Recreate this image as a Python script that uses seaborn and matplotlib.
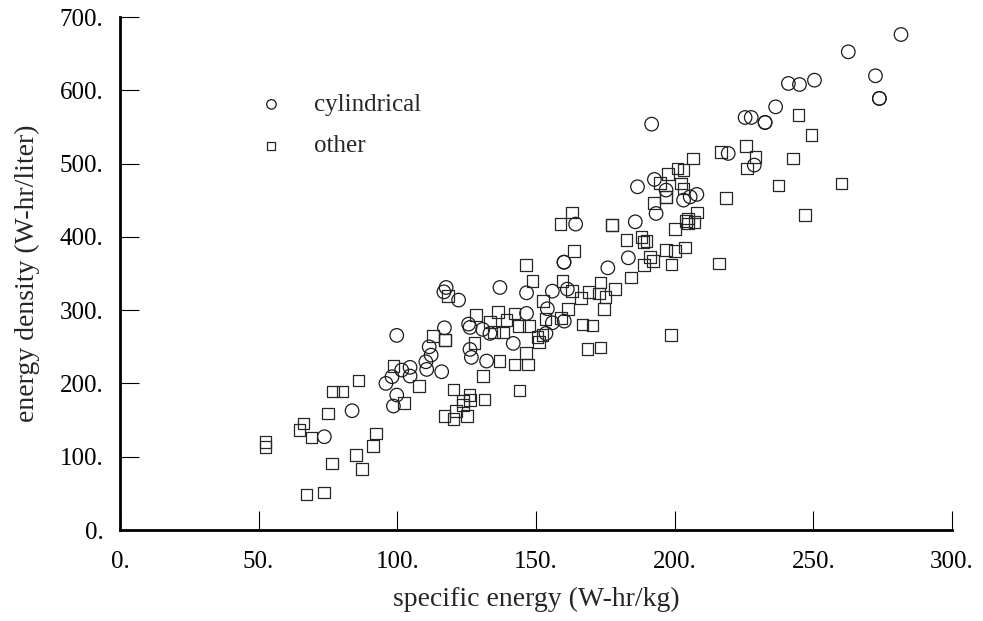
import pandas as pd
import seaborn as sns
import matplotlib.pyplot as plt
from matplotlib.ticker import FuncFormatter, MultipleLocator


# 데이터
cyl_energy = [73.7, 83.7, 99.8, 101.6, 104.6, 104.6, 98.1, 95.9, 99.8, 98.6,
              117.0, 111.5, 112.2, 110.3, 110.6, 116.0, 122.1, 117.6, 116.8, 125.7,
              126.2, 130.8, 133.4, 126.2, 126.7, 132.2, 141.8, 146.6, 146.6, 137.0,
              155.9, 154.1, 155.9, 153.6, 161.3, 160.2, 175.9, 160.1, 160.1, 164.3,
              191.7, 186.6, 192.7, 196.9, 203.2, 205.6, 208.0, 193.3, 185.8, 183.3,
              219.3, 228.7, 225.4, 227.6, 232.6, 232.6, 236.4, 281.6, 262.6, 272.4,
              273.8, 273.8, 241.0, 245.0, 250.4]
cyl_density = [127.3, 162.8, 265.6, 218.3, 222.0, 210.1, 209.2, 200.1, 184.2, 169.2,
               276.0, 250.0, 238.7, 229.6, 219.2, 216.0, 313.8, 331.0, 325.0, 281.0,
               276.5, 273.8, 268.3, 246.5, 235.6, 230.6, 254.7, 295.6, 323.7, 331.0,
               326.0, 302.0, 282.8, 268.3, 328.8, 285.1, 357.8, 365.5, 365.5, 417.5,
               553.9, 468.4, 478.4, 463.9, 450.2, 454.7, 458.0, 432.0, 420.6, 371.5,
               513.9, 498.0, 563.0, 563.0, 556.2, 556.2, 577.5, 676.2, 652.6, 619.9,
               589.0, 589.0, 609.4, 608.0, 613.9]

other_energy = [52.5, 52.5, 66.2, 64.7, 69.0, 75.1, 76.8, 80.2, 86.0, 92.3,
                91.2, 85.2, 76.5, 87.3, 67.2, 73.6, 98.6, 102.4, 107.9, 112.8,
                117.2, 117.2, 118.2, 128.4, 133.5, 127.9, 130.8, 120.3, 126.0, 126.2,
                123.6, 123.8, 131.4, 121.2, 117.0, 120.3, 125.1, 136.9, 142.2, 147.2,
                144.0, 146.3, 136.4, 139.4, 142.2, 143.8, 147.5, 134.9, 138.2, 146.3,
                148.7, 152.5, 153.4, 150.5, 151.1, 152.4, 159.6, 163.0, 166.2, 169.1,
                173.3, 172.8, 175.0, 178.5, 174.5, 161.6, 159.0, 166.8, 170.4, 168.6,
                173.2, 163.7, 158.9, 177.5, 177.5, 162.9, 194.7, 197.7, 201.0, 203.2,
                206.5, 202.2, 203.2, 196.9, 196.9, 192.6, 208.0, 204.9, 204.9, 207.1,
                204.1, 200.1, 182.7, 188.1, 188.7, 189.9, 196.9, 200.1, 203.7, 191.1,
                192.3, 189.0, 198.9, 184.3, 198.7, 216.0, 218.4, 216.7, 225.7, 229.2,
                226.0, 244.7, 249.4, 242.6, 237.5, 247.1, 260.2]
other_density = [120.5, 113.6, 145.5, 136.4, 126.4, 159.2, 189.2, 189.2, 204.2, 131.9,
                 115.0, 102.3, 91.0, 83.2, 48.7, 51.4, 224.1, 173.7, 196.9, 264.7,
                 259.2, 259.2, 319.4, 293.3, 283.5, 255.5, 210.1, 192.0, 184.2, 177.4,
                 176.4, 170.5, 178.3, 162.8, 155.5, 151.4, 155.9, 231.0, 226.0, 226.0,
                 190.6, 241.9, 297.8, 286.5, 295.6, 278.3, 278.3, 270.5, 269.6, 361.5,
                 340.1, 312.4, 287.8, 263.7, 256.5, 266.0, 339.7, 326.0, 316.9, 325.1,
                 337.9, 322.9, 317.9, 329.2, 301.5, 301.5, 289.6, 280.6, 279.2, 246.9,
                 249.2, 380.6, 418.0, 416.0, 416.0, 433.4, 473.8, 485.7, 493.4, 491.1,
                 507.1, 473.0, 466.2, 454.7, 454.7, 446.5, 433.4, 425.2, 418.4, 420.6,
                 422.0, 410.6, 395.6, 400.1, 393.3, 394.7, 382.0, 380.6, 385.7, 372.9,
                 367.0, 361.5, 362.5, 344.7, 266.0, 363.8, 453.4, 516.1, 524.3, 509.3,
                 493.4, 566.2, 538.9, 507.1, 470.3, 430.2, 473.0]

cyl_df = pd.DataFrame({"energy": cyl_energy, "density": cyl_density})
other_df = pd.DataFrame({"energy": other_energy, "density": other_density})


# 시각화 설정
sns.set_theme(style="ticks")
plt.rcParams["font.family"] = ["Liberation Serif", "DejaVu Serif"]

fig = plt.figure(figsize=(9.83, 6.21), dpi=100)
ax = fig.add_axes([0.122, 0.1465, 0.8465, 0.826])

sns.scatterplot(data=cyl_df, x="energy", y="density", ax=ax,
                marker="o", s=95, color="0.1", facecolors="none",
                edgecolors="0.1", linewidths=0.9, label="cylindrical")
sns.scatterplot(data=other_df, x="energy", y="density", ax=ax,
                marker="s", s=70, color="0.1", facecolors="none",
                edgecolors="0.15", linewidths=0.9, label="other")

ax.set_xlim(0, 300)
ax.set_ylim(0, 700)
ax.xaxis.set_major_locator(MultipleLocator(50))
ax.yaxis.set_major_locator(MultipleLocator(100))
fmt = FuncFormatter(lambda v, p: f"{v:.0f}.")
ax.xaxis.set_major_formatter(fmt)
ax.yaxis.set_major_formatter(fmt)

ax.tick_params(direction="in", length=14, width=0.8, colors="black",
               labelsize=18, bottom=True, left=True)
ax.tick_params(axis="y", pad=12)
ax.tick_params(axis="x", pad=15)

for side in ["top", "right"]:
    ax.spines[side].set_visible(False)
for side in ["left", "bottom"]:
    ax.spines[side].set_linewidth(2)
    ax.spines[side].set_color("black")

ax.set_xlabel("specific energy (W-hr/kg)", fontsize=20, labelpad=10)
ax.set_ylabel("energy density (W-hr/liter)", fontsize=20, labelpad=14)

ax.legend(loc="upper left", bbox_to_anchor=(0.14, 0.895), frameon=False,
          fontsize=18, markerscale=0.7, handlelength=1.0,
          handletextpad=1.2, labelspacing=0.75)

plt.savefig("out.png", dpi=100)
plt.close()
